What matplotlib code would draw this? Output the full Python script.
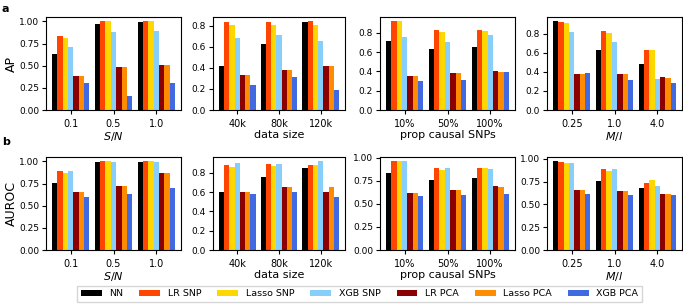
import matplotlib.pyplot as plt
import numpy as np
from matplotlib.ticker import MultipleLocator, FormatStrFormatter

W, H = 683, 306

methods = ['NN', 'LR SNP', 'Lasso SNP', 'XGB SNP', 'LR PCA', 'Lasso PCA', 'XGB PCA']
colors = ['black', '#FF4500', '#FFD700', '#87CEFA', '#8B0000', '#FF8C00', '#4169E1']

# x categories of the four columns
sn_labels = ['0.1', '0.5', '1.0']
size_labels = ['40k', '80k', '120k']
prop_labels = ['10%', '50%', '100%']
ml_labels = ['0.25', '1.0', '4.0']

# AP values: one row per category, one column per method
ap_sn = [[0.63, 0.83, 0.81, 0.71, 0.38, 0.38, 0.31],
         [0.97, 1.00, 1.00, 0.88, 0.48, 0.48, 0.16],
         [0.99, 1.00, 1.00, 0.89, 0.51, 0.51, 0.30]]
ap_size = [[0.42, 0.83, 0.81, 0.68, 0.33, 0.33, 0.24],
           [0.63, 0.83, 0.81, 0.71, 0.38, 0.38, 0.31],
           [0.83, 0.84, 0.81, 0.65, 0.42, 0.42, 0.19]]
ap_prop = [[0.72, 0.92, 0.92, 0.76, 0.35, 0.35, 0.30],
           [0.63, 0.83, 0.81, 0.71, 0.38, 0.38, 0.31],
           [0.65, 0.83, 0.82, 0.78, 0.40, 0.39, 0.39]]
ap_ml = [[0.93, 0.92, 0.91, 0.82, 0.38, 0.38, 0.39],
         [0.63, 0.83, 0.81, 0.71, 0.38, 0.38, 0.31],
         [0.48, 0.63, 0.63, 0.33, 0.35, 0.34, 0.28]]

# AUROC values
auc_sn = [[0.76, 0.89, 0.87, 0.89, 0.65, 0.65, 0.60],
          [0.99, 1.00, 1.00, 0.99, 0.72, 0.72, 0.63],
          [0.99, 1.00, 1.00, 0.99, 0.87, 0.87, 0.70]]
auc_size = [[0.60, 0.88, 0.86, 0.90, 0.60, 0.60, 0.58],
            [0.76, 0.89, 0.87, 0.89, 0.65, 0.65, 0.60],
            [0.85, 0.88, 0.88, 0.92, 0.60, 0.65, 0.55]]
auc_prop = [[0.84, 0.96, 0.96, 0.96, 0.62, 0.62, 0.59],
            [0.76, 0.89, 0.87, 0.89, 0.65, 0.65, 0.60],
            [0.78, 0.89, 0.89, 0.88, 0.69, 0.68, 0.61]]
auc_ml = [[0.97, 0.96, 0.95, 0.95, 0.66, 0.66, 0.61],
          [0.76, 0.89, 0.87, 0.89, 0.65, 0.65, 0.60],
          [0.68, 0.73, 0.77, 0.70, 0.61, 0.61, 0.60]]

plt.rcParams['font.size'] = 7

xlabels = ['$S/N$', 'data size', 'prop causal SNPs', '$M/l$']
cats = [sn_labels, size_labels, prop_labels, ml_labels]
rows = [('AP', [ap_sn, ap_size, ap_prop, ap_ml]),
        ('AUROC', [auc_sn, auc_size, auc_prop, auc_ml])]

fig = plt.figure(figsize=(W / 100, H / 100), dpi=100)

# axes pixel boxes (left, right), rows (top, bottom)
cols_px = [(46, 181), (213, 345), (380, 515), (547, 682)]
rows_px = [(17, 110), (157, 250)]

bw = 0.125
for r, (ylab, datasets) in enumerate(rows):
    top, bot = rows_px[r]
    for c, data in enumerate(datasets):
        l, rr = cols_px[c]
        ax = fig.add_axes([l / W, 1 - bot / H, (rr - l) / W, (bot - top) / H])
        d = np.array(data)
        x = np.arange(len(cats[c]))
        for j, m in enumerate(methods):
            ax.bar(x + (j - 3) * bw, d[:, j], bw, color=colors[j], label=m)
        ax.set_xticks(x)
        ax.set_xticklabels(cats[c], fontsize=7)
        # tick step like matplotlib's default on a taller axes
        if ax.get_ylim()[1] >= 1.0:
            ax.yaxis.set_major_locator(MultipleLocator(0.25))
            ax.yaxis.set_major_formatter(FormatStrFormatter('%.2f'))
        else:
            ax.yaxis.set_major_locator(MultipleLocator(0.2))
            ax.yaxis.set_major_formatter(FormatStrFormatter('%.1f'))
        ax.tick_params(axis='y', labelsize=6.5, length=3, pad=2)
        ax.tick_params(axis='x', length=3)
        ax.set_xlabel(xlabels[c], fontsize=8, labelpad=1)
        if c == 0:
            ax.set_ylabel(ylab, fontsize=9, labelpad=1)
        if r == 0 and c == 0:
            handles, labels = ax.get_legend_handles_labels()

fig.text(2 / W, 1 - 9 / H, 'a', fontweight='bold', fontsize=8, va='center')
fig.text(2 / W, 1 - 142 / H, 'b', fontweight='bold', fontsize=8, va='center')

fig.legend(handles, labels, ncol=7, loc='center right',
           bbox_to_anchor=(642 / W, 1 - 294 / H), fontsize=6.8,
           frameon=True, fancybox=False, edgecolor='#cccccc',
           handlelength=2.2, handleheight=0.6, columnspacing=1.7,
           borderpad=0.4, borderaxespad=0)

plt.savefig('out.png', dpi=100)
